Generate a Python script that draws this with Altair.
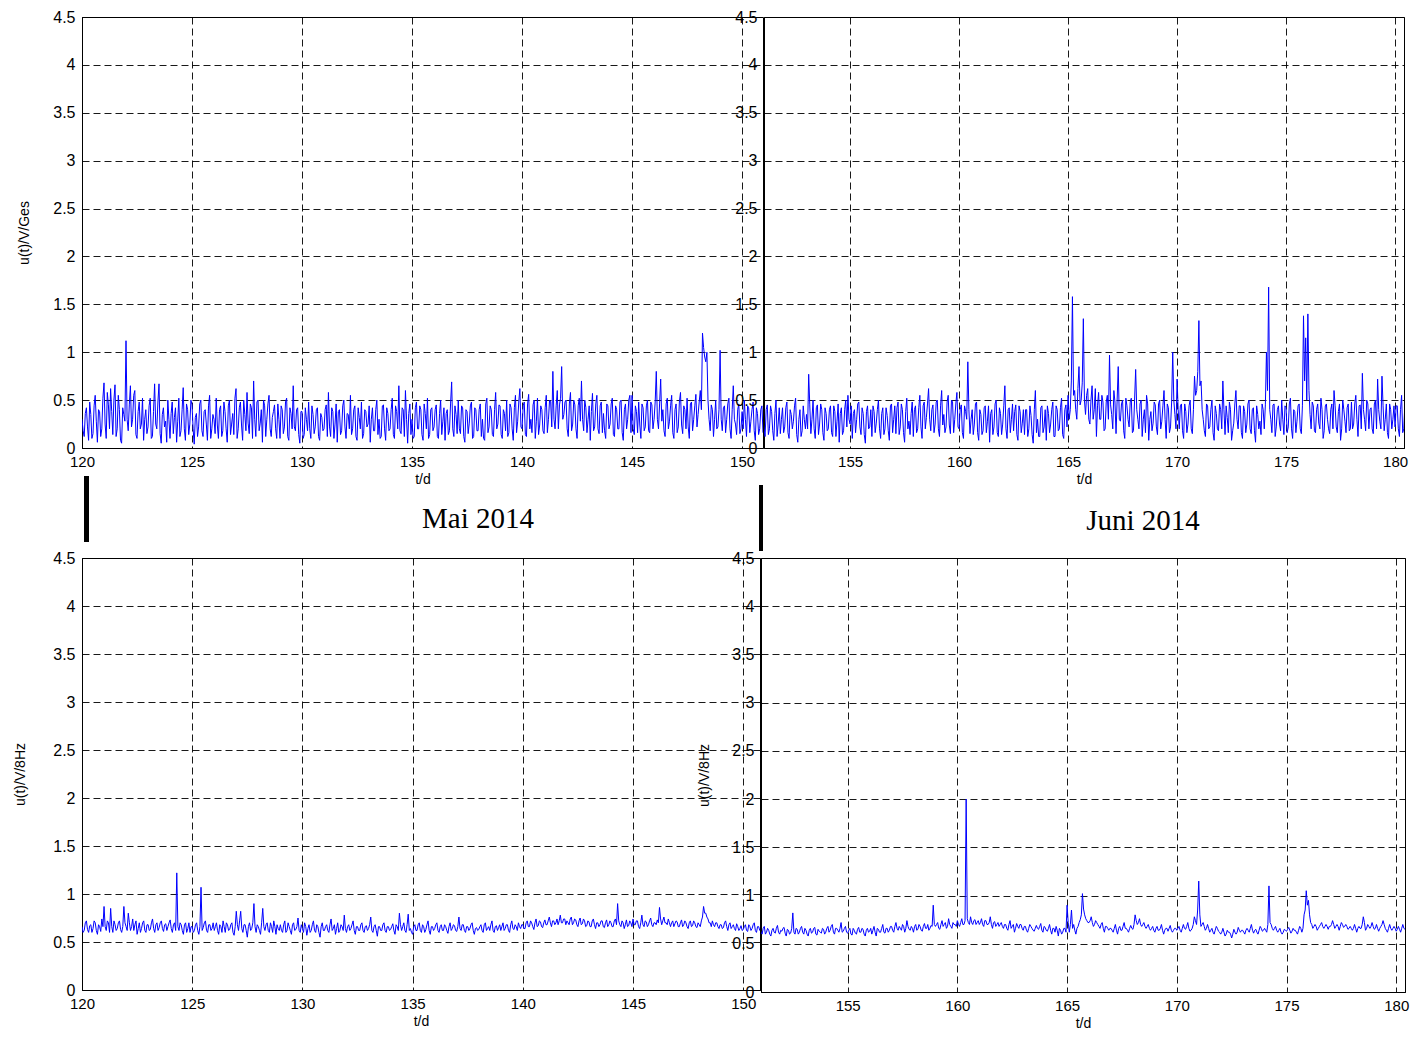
import altair as alt
import pandas as pd

STEP = 0.1
T0_MAI = 120.0
T0_JUN = 151.0
HALF = 0.05  # second set of readings, between the first ones

ges_mai = [
    0.30, 0.12, 0.42, 0.08, 0.35, 0.15, 0.55, 0.06, 0.38, 0.20,
    0.68, 0.10, 0.45, 0.62, 0.14, 0.66, 0.20, 0.40, 0.05, 0.35,
    1.12, 0.18, 0.65, 0.30, 0.60, 0.10, 0.48, 0.25, 0.08, 0.40,
    0.22, 0.52, 0.12, 0.67, 0.20, 0.67, 0.05, 0.42, 0.28, 0.50,
    0.10, 0.48, 0.32, 0.06, 0.52, 0.18, 0.63, 0.08, 0.40, 0.25,
    0.45, 0.04, 0.36, 0.22, 0.50, 0.12, 0.40, 0.08, 0.55, 0.20,
    0.30, 0.52, 0.10, 0.44, 0.18, 0.38, 0.06, 0.50, 0.25, 0.14,
    0.62, 0.20, 0.48, 0.08, 0.35, 0.58, 0.15, 0.42, 0.70, 0.12,
    0.50, 0.26, 0.06, 0.44, 0.30, 0.55, 0.12, 0.38, 0.20, 0.46,
    0.10, 0.40, 0.22, 0.52, 0.08, 0.36, 0.65, 0.18, 0.42, 0.05,
    0.38, 0.14, 0.30, 0.48, 0.10, 0.35, 0.22, 0.42, 0.08, 0.32,
    0.20, 0.45, 0.58, 0.12, 0.38, 0.25, 0.06, 0.40, 0.18, 0.50,
    0.10, 0.35, 0.55, 0.20, 0.44, 0.08, 0.32, 0.48, 0.15, 0.38,
    0.25, 0.06, 0.42, 0.18, 0.50, 0.30, 0.12, 0.45, 0.08, 0.36,
    0.20, 0.52, 0.10, 0.38, 0.65, 0.15, 0.40, 0.60, 0.05, 0.46,
    0.30, 0.12, 0.48, 0.20, 0.40, 0.08, 0.36, 0.52, 0.14, 0.42,
    0.22, 0.45, 0.10, 0.50, 0.28, 0.08, 0.40, 0.18, 0.69, 0.12,
    0.35, 0.50, 0.15, 0.42, 0.06, 0.38, 0.26, 0.48, 0.12, 0.40,
    0.18, 0.46, 0.30, 0.08, 0.52, 0.22, 0.40, 0.12, 0.58, 0.25,
    0.44, 0.10, 0.36, 0.50, 0.16, 0.42, 0.08, 0.55, 0.28, 0.62,
    0.20, 0.48, 0.12, 0.56, 0.30, 0.45, 0.10, 0.52, 0.24, 0.40,
    0.15, 0.55, 0.30, 0.48, 0.80, 0.20, 0.60, 0.45, 0.85, 0.35,
    0.50, 0.12, 0.58, 0.25, 0.45, 0.10, 0.52, 0.70, 0.18, 0.42,
    0.30, 0.08, 0.57, 0.22, 0.55, 0.15, 0.48, 0.36, 0.10, 0.44,
    0.25, 0.52, 0.12, 0.40, 0.20, 0.50, 0.08, 0.46, 0.30, 0.55,
    0.55, 0.14, 0.38, 0.48, 0.10, 0.42, 0.22, 0.50, 0.16, 0.45,
    0.30, 0.80, 0.20, 0.72, 0.40, 0.12, 0.52, 0.28, 0.55, 0.10,
    0.46, 0.22, 0.58, 0.15, 0.40, 0.52, 0.10, 0.48, 0.30, 0.56,
    0.35, 0.60, 1.20, 0.95, 1.00, 0.30, 0.45, 0.12, 0.50, 0.22,
    1.02, 0.18, 0.44, 0.30, 0.52, 0.10, 0.65, 0.25, 0.40, 0.15,
    0.38, 0.50, 0.12, 0.42, 0.28, 0.48, 0.08, 0.36, 0.20, 0.44,
]

ges_mai_half = [
    0.18, 0.36, 0.22, 0.48, 0.10, 0.44, 0.28, 0.40, 0.12, 0.52,
    0.25, 0.58, 0.20, 0.38, 0.50, 0.12, 0.55, 0.08, 0.42, 0.28,
    0.30, 0.45, 0.22, 0.55, 0.14, 0.38, 0.20, 0.52, 0.30, 0.15,
    0.44, 0.10, 0.38, 0.25, 0.48, 0.15, 0.35, 0.22, 0.06, 0.30,
    0.36, 0.15, 0.42, 0.28, 0.12, 0.40, 0.20, 0.46, 0.14, 0.50,
    0.20, 0.32, 0.12, 0.46, 0.18, 0.38, 0.25, 0.44, 0.10, 0.35,
    0.15, 0.24, 0.40, 0.12, 0.48, 0.20, 0.44, 0.14, 0.36, 0.52,
    0.10, 0.42, 0.24, 0.50, 0.18, 0.26, 0.46, 0.10, 0.30, 0.48,
    0.18, 0.40, 0.50, 0.12, 0.46, 0.20, 0.32, 0.45, 0.10, 0.30,
    0.44, 0.15, 0.48, 0.12, 0.42, 0.20, 0.22, 0.40, 0.14, 0.38,
    0.10, 0.42, 0.18, 0.20, 0.44, 0.15, 0.40, 0.12, 0.36, 0.18,
    0.40, 0.12, 0.22, 0.42, 0.10, 0.46, 0.38, 0.14, 0.44, 0.22,
    0.36, 0.20, 0.14, 0.40, 0.12, 0.42, 0.20, 0.10, 0.40, 0.22,
    0.44, 0.30, 0.18, 0.40, 0.14, 0.10, 0.44, 0.20, 0.42, 0.18,
    0.40, 0.14, 0.44, 0.20, 0.18, 0.42, 0.12, 0.30, 0.36, 0.14,
    0.10, 0.42, 0.20, 0.44, 0.14, 0.46, 0.20, 0.10, 0.40, 0.18,
    0.40, 0.12, 0.36, 0.14, 0.42, 0.36, 0.14, 0.46, 0.20, 0.44,
    0.15, 0.20, 0.44, 0.12, 0.40, 0.15, 0.44, 0.10, 0.42, 0.18,
    0.40, 0.12, 0.10, 0.46, 0.16, 0.44, 0.14, 0.40, 0.20, 0.45,
    0.14, 0.40, 0.18, 0.12, 0.46, 0.20, 0.42, 0.16, 0.48, 0.22,
    0.44, 0.14, 0.46, 0.20, 0.16, 0.50, 0.28, 0.14, 0.44, 0.18,
    0.42, 0.16, 0.50, 0.22, 0.30, 0.44, 0.20, 0.52, 0.30, 0.48,
    0.20, 0.46, 0.18, 0.50, 0.20, 0.44, 0.28, 0.30, 0.50, 0.16,
    0.44, 0.38, 0.18, 0.46, 0.20, 0.44, 0.16, 0.18, 0.46, 0.20,
    0.46, 0.14, 0.44, 0.20, 0.48, 0.16, 0.40, 0.20, 0.50, 0.16,
    0.20, 0.44, 0.16, 0.24, 0.46, 0.18, 0.44, 0.18, 0.48, 0.20,
    0.48, 0.30, 0.46, 0.28, 0.18, 0.46, 0.20, 0.44, 0.16, 0.40,
    0.16, 0.48, 0.24, 0.44, 0.20, 0.22, 0.46, 0.18, 0.44, 0.22,
    0.48, 0.40, 1.05, 0.90, 0.50, 0.18, 0.40, 0.30, 0.20, 0.40,
    0.30, 0.42, 0.16, 0.46, 0.20, 0.40, 0.30, 0.14, 0.46, 0.20,
    0.20, 0.30, 0.44, 0.16, 0.40, 0.18, 0.42, 0.14, 0.40, 0.16,
]

ges_jun = [
    0.30, 0.12, 0.45, 0.20, 0.38, 0.08, 0.50, 0.25, 0.15, 0.42,
    0.22, 0.48, 0.10, 0.35, 0.28, 0.52, 0.06, 0.40, 0.18, 0.30,
    0.35, 0.77, 0.15, 0.50, 0.10, 0.45, 0.25, 0.40, 0.08, 0.36,
    0.20, 0.44, 0.12, 0.38, 0.28, 0.06, 0.42, 0.18, 0.50, 0.55,
    0.25, 0.10, 0.40, 0.30, 0.48, 0.14, 0.36, 0.05, 0.44, 0.22,
    0.12, 0.38, 0.26, 0.50, 0.10, 0.42, 0.20, 0.34, 0.08, 0.46,
    0.30, 0.15, 0.48, 0.22, 0.40, 0.06, 0.52, 0.28, 0.36, 0.12,
    0.44, 0.20, 0.55, 0.10, 0.48, 0.32, 0.62, 0.18, 0.45, 0.25,
    0.50, 0.12, 0.60, 0.35, 0.22, 0.55, 0.15, 0.48, 0.30, 0.58,
    0.20, 0.45, 0.10, 0.38, 0.90, 0.15, 0.40, 0.25, 0.48, 0.08,
    0.35, 0.18, 0.44, 0.28, 0.06, 0.40, 0.22, 0.50, 0.12, 0.36,
    0.25, 0.65, 0.10, 0.42, 0.30, 0.18, 0.45, 0.08, 0.38, 0.26,
    0.14, 0.40, 0.20, 0.34, 0.05, 0.60, 0.30, 0.12, 0.44, 0.22,
    0.08, 0.36, 0.25, 0.48, 0.12, 0.40, 0.20, 0.52, 0.10, 0.45,
    0.55, 0.40, 1.58, 0.60, 0.30, 0.85, 0.50, 1.35, 0.35, 0.62,
    0.25, 0.65, 0.40, 0.12, 0.58, 0.30, 0.48, 0.20, 0.55, 0.97,
    0.35, 0.60, 0.15, 0.85, 0.28, 0.50, 0.10, 0.44, 0.22, 0.52,
    0.18, 0.82, 0.30, 0.46, 0.12, 0.40, 0.55, 0.08, 0.38, 0.26,
    0.45, 0.14, 0.50, 0.28, 0.60, 0.10, 0.42, 0.22, 1.00, 0.35,
    0.72, 0.20, 0.46, 0.10, 0.38, 0.25, 0.50, 0.15, 0.75, 0.60,
    1.33, 0.70, 0.30, 0.12, 0.44, 0.22, 0.50, 0.08, 0.36, 0.18,
    0.40, 0.70, 0.14, 0.32, 0.48, 0.08, 0.26, 0.60, 0.20, 0.44,
    0.10, 0.38, 0.25, 0.50, 0.15, 0.42, 0.06, 0.35, 0.28, 0.46,
    0.20, 1.00, 1.68, 0.30, 0.45, 0.12, 0.40, 0.25, 0.50, 0.14,
    0.42, 0.22, 0.52, 0.10, 0.38, 0.28, 0.46, 0.15, 1.38, 1.15,
    1.40, 0.35, 0.48, 0.18, 0.40, 0.26, 0.52, 0.10, 0.44, 0.30,
    0.15, 0.46, 0.60, 0.22, 0.38, 0.08, 0.50, 0.28, 0.42, 0.18,
    0.48, 0.25, 0.55, 0.12, 0.45, 0.78, 0.30, 0.50, 0.20, 0.42,
    0.15, 0.50, 0.72, 0.28, 0.75, 0.18, 0.46, 0.10, 0.40, 0.30,
    0.22, 0.44, 0.12, 0.55, 0.20, 0.38, 0.10, 0.42, 0.25, 0.32,
]

ges_jun_half = [
    0.20, 0.40, 0.14, 0.44, 0.18, 0.36, 0.12, 0.42, 0.30, 0.16,
    0.42, 0.16, 0.40, 0.20, 0.44, 0.14, 0.30, 0.12, 0.44, 0.20,
    0.20, 0.45, 0.30, 0.20, 0.42, 0.14, 0.46, 0.16, 0.42, 0.18,
    0.40, 0.16, 0.44, 0.12, 0.46, 0.36, 0.14, 0.40, 0.22, 0.30,
    0.44, 0.36, 0.16, 0.46, 0.22, 0.42, 0.14, 0.38, 0.20, 0.40,
    0.44, 0.16, 0.40, 0.20, 0.36, 0.14, 0.42, 0.18, 0.44, 0.16,
    0.44, 0.42, 0.14, 0.46, 0.16, 0.38, 0.20, 0.14, 0.48, 0.40,
    0.16, 0.42, 0.22, 0.44, 0.20, 0.46, 0.30, 0.40, 0.16, 0.48,
    0.20, 0.44, 0.24, 0.16, 0.48, 0.24, 0.50, 0.16, 0.46, 0.22,
    0.40, 0.16, 0.44, 0.30, 0.40, 0.30, 0.14, 0.46, 0.16, 0.40,
    0.14, 0.42, 0.16, 0.44, 0.36, 0.14, 0.46, 0.16, 0.42, 0.14,
    0.44, 0.20, 0.40, 0.16, 0.46, 0.38, 0.14, 0.44, 0.16, 0.40,
    0.40, 0.12, 0.44, 0.14, 0.40, 0.16, 0.12, 0.42, 0.16, 0.40,
    0.44, 0.16, 0.40, 0.12, 0.44, 0.18, 0.42, 0.14, 0.40, 0.22,
    0.30, 0.70, 0.55, 0.40, 0.62, 0.45, 0.68, 0.50, 0.55, 0.30,
    0.50, 0.30, 0.62, 0.44, 0.30, 0.55, 0.18, 0.48, 0.30, 0.45,
    0.20, 0.48, 0.50, 0.30, 0.46, 0.18, 0.52, 0.30, 0.48, 0.16,
    0.50, 0.40, 0.20, 0.50, 0.30, 0.16, 0.46, 0.30, 0.18, 0.48,
    0.22, 0.46, 0.20, 0.44, 0.30, 0.46, 0.16, 0.48, 0.50, 0.20,
    0.40, 0.44, 0.18, 0.46, 0.16, 0.44, 0.20, 0.40, 0.55, 0.80,
    0.65, 0.40, 0.18, 0.46, 0.20, 0.40, 0.16, 0.44, 0.20, 0.46,
    0.20, 0.40, 0.44, 0.16, 0.40, 0.18, 0.46, 0.30, 0.44, 0.16,
    0.44, 0.16, 0.46, 0.20, 0.40, 0.18, 0.44, 0.20, 0.14, 0.40,
    0.45, 0.60, 0.40, 0.16, 0.46, 0.22, 0.44, 0.18, 0.30, 0.44,
    0.16, 0.46, 0.20, 0.40, 0.16, 0.44, 0.20, 0.44, 0.70, 0.50,
    0.60, 0.20, 0.44, 0.16, 0.46, 0.20, 0.40, 0.18, 0.46, 0.20,
    0.40, 0.20, 0.44, 0.16, 0.46, 0.20, 0.40, 0.16, 0.46, 0.20,
    0.20, 0.46, 0.30, 0.44, 0.20, 0.40, 0.18, 0.46, 0.40, 0.20,
    0.46, 0.20, 0.40, 0.20, 0.44, 0.30, 0.16, 0.46, 0.20, 0.44,
    0.44, 0.20, 0.40, 0.16, 0.46, 0.20, 0.44, 0.16, 0.46, 0.20,
]

hz_mai = [
    0.66, 0.62, 0.72, 0.60, 0.68, 0.64, 0.70, 0.58, 0.66, 0.74,
    0.87, 0.62, 0.70, 0.85, 0.60, 0.68, 0.64, 0.72, 0.60, 0.87,
    0.66, 0.80, 0.62, 0.74, 0.68, 0.58, 0.70, 0.64, 0.72, 0.60,
    0.68, 0.63, 0.74, 0.60, 0.70, 0.65, 0.72, 0.61, 0.69, 0.66,
    0.73, 0.60, 0.70, 1.22, 0.62, 0.68, 0.58, 0.70, 0.64, 0.60,
    0.66, 0.62, 0.70, 0.58, 1.07, 0.65, 0.72, 0.60, 0.68, 0.64,
    0.62, 0.70, 0.58, 0.66, 0.72, 0.60, 0.68, 0.63, 0.70, 0.57,
    0.82, 0.62, 0.82, 0.60, 0.68, 0.55, 0.70, 0.64, 0.90, 0.60,
    0.66, 0.58, 0.85, 0.62, 0.70, 0.60, 0.66, 0.72, 0.58, 0.64,
    0.68, 0.60, 0.72, 0.62, 0.66, 0.58, 0.70, 0.63, 0.75, 0.60,
    0.64, 0.70, 0.57, 0.68, 0.62, 0.72, 0.60, 0.66, 0.55, 0.70,
    0.62, 0.68, 0.60, 0.74, 0.64, 0.58, 0.70, 0.62, 0.66, 0.78,
    0.60, 0.68, 0.64, 0.72, 0.58, 0.66, 0.62, 0.70, 0.60, 0.67,
    0.64, 0.76, 0.60, 0.68, 0.56, 0.66, 0.62, 0.70, 0.60, 0.66,
    0.63, 0.69, 0.58, 0.66, 0.80, 0.62, 0.70, 0.60, 0.79, 0.64,
    0.58, 0.68, 0.62, 0.70, 0.60, 0.66, 0.63, 0.72, 0.58, 0.66,
    0.64, 0.70, 0.60, 0.68, 0.62, 0.66, 0.59, 0.70, 0.64, 0.67,
    0.61, 0.76, 0.62, 0.68, 0.60, 0.66, 0.64, 0.70, 0.58, 0.65,
    0.63, 0.68, 0.60, 0.70, 0.64, 0.62, 0.72, 0.60, 0.67, 0.65,
    0.62, 0.70, 0.64, 0.68, 0.60, 0.72, 0.63, 0.66, 0.70, 0.64,
    0.68, 0.64, 0.72, 0.66, 0.70, 0.63, 0.74, 0.67, 0.71, 0.65,
    0.73, 0.68, 0.76, 0.66, 0.72, 0.70, 0.68, 0.78, 0.70, 0.74,
    0.72, 0.68, 0.76, 0.70, 0.73, 0.66, 0.75, 0.69, 0.72, 0.67,
    0.71, 0.66, 0.74, 0.64, 0.70, 0.68, 0.72, 0.65, 0.73, 0.68,
    0.70, 0.66, 0.74, 0.90, 0.68, 0.72, 0.64, 0.73, 0.67, 0.70,
    0.74, 0.68, 0.72, 0.64, 0.78, 0.66, 0.71, 0.68, 0.75, 0.66,
    0.70, 0.73, 0.86, 0.68, 0.76, 0.70, 0.74, 0.66, 0.72, 0.69,
    0.71, 0.66, 0.73, 0.68, 0.70, 0.64, 0.72, 0.67, 0.70, 0.65,
    0.68, 0.72, 0.87, 0.80, 0.74, 0.70, 0.72, 0.66, 0.70, 0.64,
    0.68, 0.65, 0.72, 0.62, 0.70, 0.66, 0.64, 0.69, 0.62, 0.67,
    0.63, 0.68, 0.61, 0.66, 0.64, 0.70, 0.60, 0.66, 0.62, 0.65,
]

hz_mai_half = [
    0.60, 0.70, 0.63, 0.67, 0.60, 0.72, 0.62, 0.68, 0.61, 0.66,
    0.66, 0.72, 0.60, 0.66, 0.72, 0.62, 0.70, 0.63, 0.66, 0.70,
    0.62, 0.70, 0.66, 0.62, 0.72, 0.64, 0.60, 0.70, 0.62, 0.68,
    0.62, 0.70, 0.64, 0.68, 0.62, 0.70, 0.64, 0.68, 0.62, 0.70,
    0.64, 0.68, 0.62, 0.66, 0.70, 0.62, 0.68, 0.60, 0.70, 0.66,
    0.60, 0.68, 0.62, 0.66, 0.62, 0.70, 0.62, 0.68, 0.62, 0.70,
    0.66, 0.62, 0.68, 0.60, 0.66, 0.70, 0.62, 0.68, 0.60, 0.66,
    0.68, 0.72, 0.64, 0.68, 0.62, 0.66, 0.62, 0.70, 0.66, 0.68,
    0.62, 0.70, 0.66, 0.68, 0.62, 0.70, 0.60, 0.66, 0.68, 0.62,
    0.62, 0.68, 0.60, 0.70, 0.62, 0.68, 0.62, 0.66, 0.62, 0.68,
    0.60, 0.66, 0.64, 0.60, 0.68, 0.62, 0.68, 0.60, 0.66, 0.62,
    0.66, 0.62, 0.68, 0.62, 0.68, 0.64, 0.60, 0.68, 0.62, 0.64,
    0.66, 0.62, 0.68, 0.62, 0.66, 0.62, 0.68, 0.62, 0.66, 0.62,
    0.68, 0.62, 0.66, 0.62, 0.66, 0.62, 0.68, 0.62, 0.66, 0.62,
    0.66, 0.62, 0.68, 0.62, 0.68, 0.66, 0.62, 0.68, 0.62, 0.60,
    0.66, 0.62, 0.68, 0.62, 0.68, 0.60, 0.68, 0.62, 0.66, 0.62,
    0.68, 0.62, 0.66, 0.62, 0.68, 0.62, 0.66, 0.62, 0.68, 0.62,
    0.66, 0.64, 0.68, 0.62, 0.66, 0.62, 0.68, 0.62, 0.64, 0.62,
    0.66, 0.62, 0.68, 0.62, 0.66, 0.68, 0.62, 0.66, 0.62, 0.68,
    0.66, 0.62, 0.68, 0.62, 0.68, 0.64, 0.68, 0.62, 0.66, 0.68,
    0.64, 0.70, 0.66, 0.72, 0.66, 0.70, 0.66, 0.72, 0.66, 0.70,
    0.68, 0.72, 0.70, 0.72, 0.68, 0.74, 0.72, 0.70, 0.74, 0.68,
    0.70, 0.74, 0.68, 0.74, 0.68, 0.72, 0.68, 0.74, 0.66, 0.72,
    0.66, 0.72, 0.68, 0.70, 0.66, 0.72, 0.66, 0.70, 0.66, 0.72,
    0.66, 0.72, 0.68, 0.72, 0.66, 0.70, 0.68, 0.66, 0.72, 0.66,
    0.68, 0.72, 0.66, 0.70, 0.68, 0.72, 0.66, 0.72, 0.68, 0.70,
    0.68, 0.70, 0.74, 0.72, 0.70, 0.68, 0.70, 0.70, 0.66, 0.72,
    0.66, 0.70, 0.66, 0.72, 0.66, 0.70, 0.66, 0.72, 0.66, 0.70,
    0.66, 0.76, 0.80, 0.76, 0.70, 0.66, 0.68, 0.70, 0.66, 0.68,
    0.64, 0.70, 0.66, 0.68, 0.64, 0.68, 0.62, 0.66, 0.64, 0.62,
    0.66, 0.62, 0.68, 0.62, 0.68, 0.62, 0.66, 0.62, 0.66, 0.62,
]

hz_jun = [
    0.66, 0.60, 0.68, 0.62, 0.64, 0.58, 0.66, 0.61, 0.69, 0.60,
    0.63, 0.67, 0.58, 0.64, 0.61, 0.82, 0.60, 0.65, 0.62, 0.68,
    0.60, 0.64, 0.58, 0.66, 0.62, 0.67, 0.59, 0.63, 0.61, 0.65,
    0.62, 0.68, 0.64, 0.70, 0.60, 0.66, 0.62, 0.72, 0.63, 0.68,
    0.61, 0.66, 0.59, 0.64, 0.60, 0.67, 0.62, 0.65, 0.58, 0.66,
    0.63, 0.60, 0.68, 0.58, 0.65, 0.62, 0.70, 0.61, 0.66, 0.64,
    0.68, 0.62, 0.72, 0.64, 0.66, 0.70, 0.62, 0.74, 0.65, 0.68,
    0.62, 0.70, 0.65, 0.68, 0.63, 0.71, 0.66, 0.64, 0.69, 0.90,
    0.68, 0.72, 0.65, 0.74, 0.70, 0.66, 0.76, 0.68, 0.72, 0.70,
    0.74, 0.68, 0.76, 0.70, 2.00, 0.72, 0.78, 0.70, 0.75, 0.72,
    0.70, 0.76, 0.68, 0.74, 0.70, 0.78, 0.66, 0.73, 0.70, 0.68,
    0.72, 0.66, 0.70, 0.64, 0.74, 0.68, 0.62, 0.71, 0.66, 0.70,
    0.64, 0.68, 0.62, 0.70, 0.66, 0.63, 0.69, 0.65, 0.71, 0.62,
    0.67, 0.63, 0.70, 0.60, 0.66, 0.68, 0.58, 0.64, 0.62, 0.66,
    0.90, 0.62, 0.85, 0.70, 0.60, 0.68, 0.75, 1.02, 0.80, 0.74,
    0.72, 0.78, 0.68, 0.74, 0.70, 0.66, 0.72, 0.62, 0.68, 0.64,
    0.66, 0.62, 0.70, 0.60, 0.68, 0.64, 0.72, 0.66, 0.62, 0.69,
    0.65, 0.80, 0.70, 0.76, 0.68, 0.72, 0.66, 0.70, 0.64, 0.68,
    0.62, 0.68, 0.64, 0.70, 0.60, 0.66, 0.63, 0.69, 0.62, 0.66,
    0.64, 0.68, 0.62, 0.70, 0.65, 0.72, 0.63, 0.66, 0.78, 0.70,
    1.15, 0.68, 0.72, 0.64, 0.70, 0.62, 0.66, 0.60, 0.68, 0.63,
    0.60, 0.66, 0.58, 0.64, 0.62, 0.56, 0.65, 0.60, 0.67, 0.62,
    0.64, 0.60, 0.66, 0.62, 0.70, 0.61, 0.65, 0.60, 0.68, 0.63,
    0.66, 0.62, 1.10, 0.70, 0.64, 0.68, 0.62, 0.66, 0.60, 0.65,
    0.63, 0.67, 0.61, 0.66, 0.64, 0.60, 0.68, 0.62, 0.80, 1.05,
    0.95, 0.72, 0.66, 0.70, 0.64, 0.68, 0.72, 0.66, 0.70, 0.65,
    0.68, 0.74, 0.66, 0.70, 0.64, 0.72, 0.67, 0.70, 0.65, 0.68,
    0.64, 0.70, 0.62, 0.68, 0.66, 0.78, 0.64, 0.70, 0.66, 0.72,
    0.65, 0.70, 0.63, 0.68, 0.74, 0.66, 0.62, 0.70, 0.64, 0.68,
    0.63, 0.68, 0.62, 0.70, 0.65, 0.66, 0.60, 0.68, 0.64, 0.66,
]

hz_jun_half = [
    0.62, 0.66, 0.60, 0.66, 0.60, 0.64, 0.62, 0.66, 0.62, 0.64,
    0.66, 0.61, 0.65, 0.60, 0.66, 0.62, 0.66, 0.60, 0.66, 0.62,
    0.66, 0.60, 0.64, 0.61, 0.66, 0.60, 0.65, 0.62, 0.66, 0.60,
    0.66, 0.62, 0.68, 0.62, 0.66, 0.64, 0.66, 0.62, 0.66, 0.62,
    0.64, 0.60, 0.66, 0.61, 0.65, 0.62, 0.66, 0.60, 0.64, 0.62,
    0.66, 0.64, 0.62, 0.66, 0.62, 0.66, 0.62, 0.66, 0.62, 0.68,
    0.64, 0.68, 0.66, 0.68, 0.64, 0.68, 0.66, 0.68, 0.64, 0.66,
    0.68, 0.64, 0.70, 0.64, 0.68, 0.66, 0.70, 0.66, 0.68, 0.70,
    0.70, 0.66, 0.70, 0.68, 0.72, 0.68, 0.70, 0.66, 0.70, 0.68,
    0.70, 0.72, 0.70, 0.74, 0.76, 0.70, 0.72, 0.74, 0.70, 0.74,
    0.72, 0.70, 0.74, 0.70, 0.72, 0.70, 0.72, 0.68, 0.72, 0.70,
    0.68, 0.70, 0.66, 0.70, 0.66, 0.70, 0.66, 0.68, 0.70, 0.66,
    0.68, 0.64, 0.66, 0.68, 0.64, 0.66, 0.66, 0.68, 0.64, 0.68,
    0.64, 0.66, 0.64, 0.66, 0.62, 0.64, 0.66, 0.60, 0.66, 0.62,
    0.72, 0.70, 0.66, 0.64, 0.66, 0.72, 0.80, 0.86, 0.76, 0.72,
    0.74, 0.72, 0.70, 0.72, 0.68, 0.70, 0.66, 0.68, 0.66, 0.66,
    0.64, 0.66, 0.64, 0.66, 0.64, 0.68, 0.66, 0.64, 0.66, 0.66,
    0.70, 0.74, 0.72, 0.70, 0.70, 0.68, 0.68, 0.66, 0.66, 0.64,
    0.66, 0.64, 0.66, 0.64, 0.64, 0.66, 0.66, 0.64, 0.64, 0.66,
    0.66, 0.64, 0.66, 0.66, 0.68, 0.66, 0.64, 0.70, 0.74, 0.85,
    0.80, 0.70, 0.68, 0.66, 0.66, 0.64, 0.62, 0.64, 0.66, 0.62,
    0.62, 0.62, 0.60, 0.62, 0.60, 0.60, 0.62, 0.62, 0.64, 0.64,
    0.62, 0.64, 0.64, 0.66, 0.64, 0.64, 0.62, 0.64, 0.66, 0.64,
    0.64, 0.70, 0.72, 0.66, 0.66, 0.64, 0.64, 0.62, 0.62, 0.64,
    0.65, 0.64, 0.63, 0.64, 0.62, 0.64, 0.66, 0.66, 0.85, 0.90,
    0.80, 0.70, 0.68, 0.68, 0.66, 0.70, 0.68, 0.68, 0.68, 0.68,
    0.70, 0.70, 0.68, 0.68, 0.68, 0.70, 0.68, 0.68, 0.66, 0.66,
    0.66, 0.66, 0.66, 0.66, 0.70, 0.72, 0.66, 0.68, 0.68, 0.68,
    0.66, 0.66, 0.66, 0.70, 0.70, 0.64, 0.66, 0.66, 0.66, 0.66,
    0.65, 0.65, 0.66, 0.66, 0.66, 0.63, 0.64, 0.66, 0.66, 0.64,
]

x_ticks_mai = [120, 125, 130, 135, 140, 145, 150]
x_ticks_jun = [155, 160, 165, 170, 175, 180]
y_ticks = [0, 0.5, 1, 1.5, 2, 2.5, 3, 3.5, 4, 4.5]
month_labels = ["Mai 2014", "Juni 2014"]
y_titles = ["u(t)/V/Ges", "u(t)/V/8Hz"]

BLUE = "#0000ff"
SANS = "Liberation Sans"
SERIF = "Liberation Serif"


def frame(t0, vals, vals_half):
    ts = [round(t0 + i * STEP, 2) for i in range(len(vals))]
    ts += [round(t0 + HALF + i * STEP, 2) for i in range(len(vals_half))]
    df = pd.DataFrame({"t": ts, "u": list(vals) + list(vals_half)})
    return df.sort_values("t").reset_index(drop=True)


def panel(df, xdom, xticks, w, h, ytitle, title_pad):
    yaxis = alt.Axis(values=y_ticks, format="~g", title=ytitle, titlePadding=title_pad)
    return alt.Chart(df).mark_line(color=BLUE, strokeWidth=1, clip=True).encode(
        x=alt.X("t:Q", scale=alt.Scale(domain=xdom, nice=False, zero=False),
                axis=alt.Axis(values=xticks, format="~g", title="t/d")),
        y=alt.Y("u:Q", scale=alt.Scale(domain=[0, 4.5], nice=False), axis=yaxis),
    ).properties(width=w, height=h)


one = pd.DataFrame({"k": [0]})


def bar(x, y1, y2, sw):
    return alt.Chart(one).mark_rule(color="black", strokeWidth=sw).encode(
        x=alt.value(x), y=alt.value(y1), y2=alt.value(y2))


def label(txt, x, y):
    return alt.Chart(one).mark_text(font=SERIF, fontSize=29, color="black",
                                    baseline="middle", align="center", text=txt).encode(
        x=alt.value(x), y=alt.value(y))


tl = alt.layer(
    panel(frame(T0_MAI, ges_mai, ges_mai_half), [120, 150.95], x_ticks_mai, 681, 431, y_titles[0], 21),
    bar(4.5, 459, 525, 5),
    label(month_labels[0], 396, 502),
)
tr = alt.layer(
    panel(frame(T0_JUN, ges_jun, ges_jun_half), [151.05, 180.41], x_ticks_jun, 640, 431, "", 0),
    bar(-3, 468, 534, 4),
    label(month_labels[1], 379, 504),
)
bl = panel(frame(T0_MAI, hz_mai, hz_mai_half), [120, 150.76], x_ticks_mai, 678, 432, y_titles[1], 25)
br = panel(frame(T0_JUN, hz_jun, hz_jun_half), [151.05, 180.4], x_ticks_jun, 644, 434, y_titles[1], 20)

top = alt.hconcat(tl, tr, spacing=-30)
bottom = alt.hconcat(bl, br, spacing=-65)

chart = alt.vconcat(top, bottom, spacing=-5).properties(
    padding={"left": 5, "top": 0, "right": 0, "bottom": 0}
).configure_view(
    stroke="black", strokeWidth=1
).configure_axis(
    domain=True, domainColor="black", domainWidth=1,
    ticks=False, labelFlush=False,
    grid=True, gridColor="black", gridDash=[7, 4], gridWidth=1, gridOpacity=0.9,
    labelFont=SANS, labelFontSize=15, labelColor="black",
    titleFont=SANS, titleFontSize=14, titleFontWeight="normal", titleColor="black",
).configure_axisX(
    titlePadding=3, labelPadding=6,
).configure_axisY(
    labelFontSize=16, labelPadding=7,
)

chart.save("out.html", embed_options={"renderer": "svg", "actions": False})
